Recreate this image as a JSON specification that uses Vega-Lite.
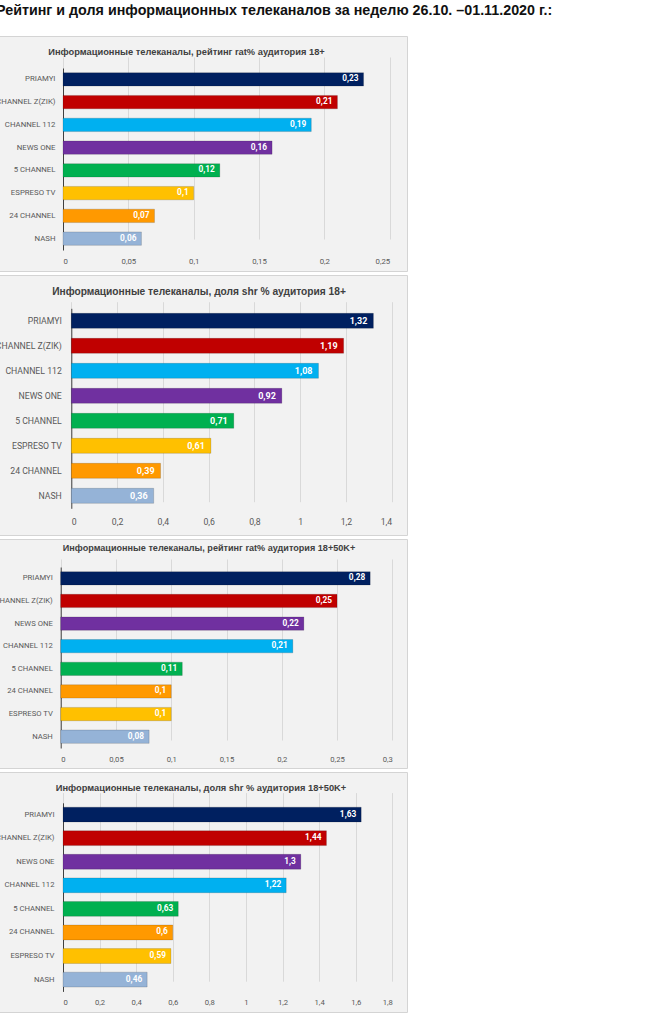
{
  "$schema": "https://vega.github.io/schema/vega-lite/v6.json",
  "padding": {"left": -9, "top": 4, "right": 0, "bottom": 0},
  "background": "white",
  "title": {"text": "Рейтинг и доля информационных телеканалов за неделю 26.10. –01.11.2020 г.:", "anchor": "start", "font": "Liberation Sans", "fontSize": 14.3, "fontWeight": "bold", "color": "#111111", "baseline": "alphabetic", "offset": 6, "dx": 2},
  "config": {
    "locale": {"number": {"decimal": ",", "thousands": " ", "grouping": [3], "currency": ["", ""]}},
    "view": {"fill": "#f2f2f2", "stroke": "#d4d4d4", "strokeWidth": 1},
    "axis": {"labelFont": "Roboto", "labelColor": "#595959", "title": null, "tickSize": 0, "ticks": false},
    "axisX": {"domain": false, "grid": true, "gridColor": "#d9d9d9", "gridWidth": 1},
    "axisY": {"domain": true, "domainColor": "#404040", "domainWidth": 1, "grid": false},
    "title": {"font": "Liberation Sans", "fontWeight": "bold", "color": "#404040", "anchor": "middle", "frame": "group", "baseline": "alphabetic"}
  },
  "datasets": {
    "p1": [
      {"channel": "PRIAMYI", "value": 0.23},
      {"channel": "CHANNEL  Z(ZIK)", "value": 0.21},
      {"channel": "CHANNEL  112", "value": 0.19},
      {"channel": "NEWS ONE", "value": 0.16},
      {"channel": "5 CHANNEL", "value": 0.12},
      {"channel": "ESPRESO TV", "value": 0.1},
      {"channel": "24 CHANNEL", "value": 0.07},
      {"channel": "NASH", "value": 0.06}
    ],
    "p2": [
      {"channel": "PRIAMYI", "value": 1.32},
      {"channel": "CHANNEL  Z(ZIK)", "value": 1.19},
      {"channel": "CHANNEL  112", "value": 1.08},
      {"channel": "NEWS ONE", "value": 0.92},
      {"channel": "5 CHANNEL", "value": 0.71},
      {"channel": "ESPRESO TV", "value": 0.61},
      {"channel": "24 CHANNEL", "value": 0.39},
      {"channel": "NASH", "value": 0.36}
    ],
    "p3": [
      {"channel": "PRIAMYI", "value": 0.28},
      {"channel": "CHANNEL  Z(ZIK)", "value": 0.25},
      {"channel": "NEWS ONE", "value": 0.22},
      {"channel": "CHANNEL  112", "value": 0.21},
      {"channel": "5 CHANNEL", "value": 0.11},
      {"channel": "24 CHANNEL", "value": 0.1},
      {"channel": "ESPRESO TV", "value": 0.1},
      {"channel": "NASH", "value": 0.08}
    ],
    "p4": [
      {"channel": "PRIAMYI", "value": 1.63},
      {"channel": "CHANNEL  Z(ZIK)", "value": 1.44},
      {"channel": "NEWS ONE", "value": 1.3},
      {"channel": "CHANNEL  112", "value": 1.22},
      {"channel": "5 CHANNEL", "value": 0.63},
      {"channel": "24 CHANNEL", "value": 0.6},
      {"channel": "ESPRESO TV", "value": 0.59},
      {"channel": "NASH", "value": 0.46}
    ]
  },
  "spacing": 2,
  "vconcat": [
    {
      "width": 413, "height": 235,
      "title": {"text": "Информационные телеканалы, рейтинг rat% аудитория 18+", "fontSize": 9.3, "offset": -21, "dx": -14},
      "data": {"name": "p1"},
      "encoding": {
        "y": {"field": "channel", "type": "nominal", "sort": null,
              "scale": {"range": [32, 214], "paddingInner": 0.41, "paddingOuter": 0.205},
              "axis": {"offset": -69, "labelPadding": 8, "labelFontSize": 7.8}},
        "x": {"field": "value", "type": "quantitative",
              "scale": {"domain": [0, 0.25], "range": [69, 395.7]},
              "axis": {"values": [0, 0.05, 0.1, 0.15, 0.2, 0.25], "format": "~g", "offset": -21, "labelPadding": 7, "labelFontSize": 7.8}}
      },
      "layer": [
        {"mark": {"type": "bar", "stroke": "#000000", "strokeOpacity": 0.15, "strokeWidth": 1},
         "encoding": {"color": {"field": "channel", "type": "nominal", "legend": null,
           "scale": {"domain": ["PRIAMYI", "CHANNEL  Z(ZIK)", "CHANNEL  112", "NEWS ONE", "5 CHANNEL", "ESPRESO TV", "24 CHANNEL", "NASH"],
                     "range": ["#002060", "#C00000", "#00B0F0", "#7030A0", "#00B050", "#FFC000", "#FF9900", "#95B3D7"]}}}},
        {"mark": {"type": "text", "align": "right", "baseline": "middle", "dx": -5, "color": "white", "fontWeight": "bold", "font": "Roboto", "fontSize": 8.3},
         "encoding": {"text": {"field": "value", "type": "quantitative", "format": ".3~g"}}}
      ]
    },
    {
      "width": 413, "height": 260,
      "title": {"text": "Информационные телеканалы, доля shr % аудитория 18+", "fontSize": 10.2, "offset": -22, "dx": -1.5},
      "data": {"name": "p2"},
      "encoding": {
        "y": {"field": "channel", "type": "nominal", "sort": null,
              "scale": {"range": [33.3, 233.3], "paddingInner": 0.4, "paddingOuter": 0.2},
              "axis": {"offset": -77.3, "labelPadding": 10, "labelFontSize": 8.7}},
        "x": {"field": "value", "type": "quantitative",
              "scale": {"domain": [0, 1.4], "range": [77.3, 397.7]},
              "axis": {"values": [0, 0.2, 0.4, 0.6, 0.8, 1, 1.2, 1.4], "format": "~g", "offset": -26.7, "labelPadding": 9, "labelFontSize": 8.7}}
      },
      "layer": [
        {"mark": {"type": "bar", "stroke": "#000000", "strokeOpacity": 0.15, "strokeWidth": 1},
         "encoding": {"color": {"field": "channel", "type": "nominal", "legend": null,
           "scale": {"domain": ["PRIAMYI", "CHANNEL  Z(ZIK)", "CHANNEL  112", "NEWS ONE", "5 CHANNEL", "ESPRESO TV", "24 CHANNEL", "NASH"],
                     "range": ["#002060", "#C00000", "#00B0F0", "#7030A0", "#00B050", "#FFC000", "#FF9900", "#95B3D7"]}}}},
        {"mark": {"type": "text", "align": "right", "baseline": "middle", "dx": -6, "color": "white", "fontWeight": "bold", "font": "Roboto", "fontSize": 9},
         "encoding": {"text": {"field": "value", "type": "quantitative", "format": ".3~g"}}}
      ]
    },
    {
      "width": 413, "height": 229,
      "title": {"text": "Информационные телеканалы, рейтинг rat% аудитория 18+50K+", "fontSize": 9.1, "offset": -14, "dx": 8.5},
      "data": {"name": "p3"},
      "encoding": {
        "y": {"field": "channel", "type": "nominal", "sort": null,
              "scale": {"range": [28, 209], "paddingInner": 0.41, "paddingOuter": 0.205},
              "axis": {"offset": -66.7, "labelPadding": 8.4, "labelFontSize": 7.7}},
        "x": {"field": "value", "type": "quantitative",
              "scale": {"domain": [0, 0.3], "range": [66.7, 398.3]},
              "axis": {"values": [0, 0.05, 0.1, 0.15, 0.2, 0.25, 0.3], "format": "~g", "offset": -20, "labelPadding": 7, "labelFontSize": 7.7}}
      },
      "layer": [
        {"mark": {"type": "bar", "stroke": "#000000", "strokeOpacity": 0.15, "strokeWidth": 1},
         "encoding": {"color": {"field": "channel", "type": "nominal", "legend": null,
           "scale": {"domain": ["PRIAMYI", "CHANNEL  Z(ZIK)", "CHANNEL  112", "NEWS ONE", "5 CHANNEL", "ESPRESO TV", "24 CHANNEL", "NASH"],
                     "range": ["#002060", "#C00000", "#00B0F0", "#7030A0", "#00B050", "#FFC000", "#FF9900", "#95B3D7"]}}}},
        {"mark": {"type": "text", "align": "right", "baseline": "middle", "dx": -5, "color": "white", "fontWeight": "bold", "font": "Roboto", "fontSize": 8.3},
         "encoding": {"text": {"field": "value", "type": "quantitative", "format": ".3~g"}}}
      ]
    },
    {
      "width": 413, "height": 240,
      "title": {"text": "Информационные телеканалы, доля shr % аудитория 18+50K+", "fontSize": 9.3, "offset": -21, "dx": 0.5},
      "data": {"name": "p4"},
      "encoding": {
        "y": {"field": "channel", "type": "nominal", "sort": null,
              "scale": {"range": [30.8, 219.4], "paddingInner": 0.37, "paddingOuter": 0.185},
              "axis": {"offset": -69, "labelPadding": 9, "labelFontSize": 7.7}},
        "x": {"field": "value", "type": "quantitative",
              "scale": {"domain": [0, 1.8], "range": [69, 398.3]},
              "axis": {"values": [0, 0.2, 0.4, 0.6, 0.8, 1, 1.2, 1.4, 1.6, 1.8], "format": "~g", "offset": -20.6, "labelPadding": 7, "labelFontSize": 7.7}}
      },
      "layer": [
        {"mark": {"type": "bar", "stroke": "#000000", "strokeOpacity": 0.15, "strokeWidth": 1},
         "encoding": {"color": {"field": "channel", "type": "nominal", "legend": null,
           "scale": {"domain": ["PRIAMYI", "CHANNEL  Z(ZIK)", "CHANNEL  112", "NEWS ONE", "5 CHANNEL", "ESPRESO TV", "24 CHANNEL", "NASH"],
                     "range": ["#002060", "#C00000", "#00B0F0", "#7030A0", "#00B050", "#FFC000", "#FF9900", "#95B3D7"]}}}},
        {"mark": {"type": "text", "align": "right", "baseline": "middle", "dx": -5, "color": "white", "fontWeight": "bold", "font": "Roboto", "fontSize": 8.3},
         "encoding": {"text": {"field": "value", "type": "quantitative", "format": ".3~g"}}}
      ]
    }
  ]
}
